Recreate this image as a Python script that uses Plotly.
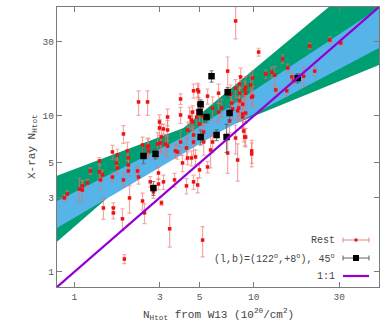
import plotly.graph_objects as go

# "Rest" sample: N_H from W13 (x) vs X-ray N_H (y), 1e20 cm^-2
rest_x = [0.88, 0.914, 1.066, 1.108, 1.108, 1.182, 1.228, 1.38, 1.38, 1.397,
          1.433, 1.452, 1.63, 1.65, 1.65, 1.738, 1.717, 1.878, 1.854, 1.90,
          2.0, 2.0, 2.03, 2.25, 2.28, 2.40, 2.46, 2.65, 2.76, 2.945,
          3.06, 3.40, 3.62, 4.01, 4.22, 4.62, 4.87, 4.99, 5.53, 5.19,
          4.28, 4.50, 4.74, 7.16, 8.14, 9.75,
          1.878, 1.63, 1.738, 1.977, 2.0, 2.40, 2.59, 2.59, 2.985, 3.14,
          3.06, 2.985, 2.28, 2.56, 2.56, 3.02, 3.31, 3.31, 3.31, 3.91,
          3.91, 3.66, 3.76, 3.91, 4.28, 4.39, 4.50, 4.56, 4.80, 4.87,
          4.93, 4.99, 2.91, 3.22, 4.62, 4.62, 5.26, 4.22, 5.26, 5.75,
          5.90, 8.91, 9.75, 7.93, 4.62, 5.53, 4.93, 4.56, 5.19, 5.90,
          6.62, 6.37, 7.54, 7.63, 8.25, 8.68, 8.14, 8.68, 7.34, 9.02,
          9.62, 9.87, 9.75, 7.16, 8.46, 7.93, 8.35, 8.35, 6.37, 7.44,
          8.35, 7.93, 10.66, 14.5, 15.5, 20.5, 26.6, 30.6, 11.67, 12.6,
          13.1, 9.02, 8.91, 9.87, 13.27, 15.3, 16.3, 16.7, 19.0, 21.9,
          8.68, 9.02, 8.79, 9.02, 2.945, 3.14]
rest_y = [2.98, 3.16, 3.40, 3.35, 3.56, 3.72, 4.44, 5.15, 4.38, 3.89,
          4.19, 2.57, 4.06, 2.57, 2.39, 4.64, 5.0, 3.89, 2.19, 1.21,
          4.85, 4.44, 2.98, 4.44, 4.06, 2.85, 2.39, 3.78, 3.26, 3.66,
          2.77, 1.89, 3.89, 5.0, 3.56, 3.78, 3.61, 4.51, 4.71, 1.60,
          5.38, 5.38, 5.46, 5.79, 5.22, 5.97,
          7.67, 5.88, 5.62, 5.97, 5.38, 6.52, 6.42, 5.97, 8.38, 8.26,
          7.33, 9.15, 12.3, 12.3, 6.33, 6.71, 8.13, 6.42, 9.85, 12.85,
          10.15, 5.97, 5.88, 6.81, 8.13, 9.85, 9.42, 9.15, 9.85, 14.7,
          14.3, 8.89, 6.61, 6.61, 7.55, 6.81, 7.89, 6.24, 6.81, 6.05,
          6.81, 7.33, 5.71, 7.22, 14.5, 13.4, 11.9, 10.6, 10.0, 11.25,
          11.25, 10.6, 12.1, 11.1, 11.25, 11.9, 10.8, 10.3, 9.29, 14.0,
          15.8, 17.5, 13.2, 19.4, 17.8, 15.1, 16.0, 14.0, 14.0, 13.8,
          12.5, 40.7, 25.7, 23.2, 20.3, 28.1, 30.7, 29.4, 18.6, 19.1,
          18.3, 15.3, 14.7, 13.4, 14.7, 14.5, 17.8, 16.8, 18.0, 19.4,
          9.85, 10.45, 8.01, 7.33, 4.31, 3.78]
rest_err = [0.15, 0.15, 0.6, 0.5, 0.3, 0.2, 0.2, 0.25, 0.4, 0.5,
            0.3, 0.4, 0.3, 0.2, 0.2, 0.4, 0.3, 0.4, 0.35, 0.08,
            0.4, 0.3, 0.6, 0.3, 0.4, 0.35, 0.35, 0.3, 0.3, 0.3,
            0.1, 0.45, 0.4, 0.6, 0.4, 0.4, 0.4, 0.5, 0.4, 0.35,
            0.5, 0.6, 0.6, 1.5, 1.4, 1.0,
            1.0, 0.6, 0.5, 0.8, 0.6, 0.8, 0.8, 0.6, 1.1, 0.6,
            1.5, 1.0, 2.2, 2.2, 0.8, 0.8, 1.2, 1.0, 1.2, 1.0,
            1.2, 0.6, 0.6, 1.2, 1.0, 1.5, 1.2, 1.2, 1.0, 1.5,
            1.5, 1.0, 1.2, 1.0, 1.0, 1.2, 1.0, 1.0, 1.2, 1.4,
            1.0, 0.9, 1.0, 1.5, 1.5, 1.5, 1.2, 1.0, 1.3, 2.0,
            1.5, 1.5, 1.5, 1.5, 2.0, 2.0, 1.5, 2.0, 1.5, 1.5,
            2.5, 2.0, 1.5, 4.5, 2.5, 2.0, 2.0, 2.0, 2.0, 2.0,
            2.5, 9.5, 1.5, 1.5, 1.2, 1.2, 1.5, 1.0, 1.2, 1.5,
            2.5, 2.5, 2.0, 2.0, 0.8, 1.0, 1.0, 1.0, 2.5, 1.3,
            1.5, 1.5, 1.2, 1.0, 0.4, 0.4]

# (l,b)=(122,+8), 45 deg subsample
gc_x = [2.76, 2.43, 2.835, 5.82, 7.16, 5.06, 4.99, 5.46, 7.34, 5.06, 6.21, 7.06, 17.6]
gc_y = [3.45, 5.54, 5.71, 18.0, 14.2, 11.9, 10.6, 9.85, 10.45, 7.33, 7.55, 7.33, 17.5]
gc_err = [0.35, 0.6, 0.4, 1.5, 1.0, 0.8, 0.6, 0.8, 1.0, 0.8, 0.6, 1.5, 1.2]

# fit bands (edges, log-log piecewise)
green_hi_x = [0.8, 4.06, 50]
green_hi_y = [4.14, 8.38, 92.7]
green_lo_x = [0.8, 2.82, 50]
green_lo_y = [1.56, 5.5, 21.2]
blue_hi_x = [0.8, 4.06, 50]
blue_hi_y = [2.85, 7.33, 49.2]
blue_lo_x = [0.8, 6.55, 50]
blue_lo_y = [1.91, 7.94, 27.3]

one_x = [0.8, 50]
one_y = [0.8, 50]

ticks = [1, 3, 5, 10, 30]

W, H = 390, 327
L, R, T, B = 57, 11, 7, 40
FONT = "Liberation Mono, DejaVu Sans Mono, monospace"

fig = go.Figure()

fig.add_trace(go.Scatter(x=green_hi_x + green_lo_x[::-1], y=green_hi_y + green_lo_y[::-1],
                         fill="toself", fillcolor="#009E73", line=dict(width=0),
                         mode="lines", hoverinfo="skip", showlegend=False))
fig.add_trace(go.Scatter(x=blue_hi_x + blue_lo_x[::-1], y=blue_hi_y + blue_lo_y[::-1],
                         fill="toself", fillcolor="#56B4E9", line=dict(width=0),
                         mode="lines", hoverinfo="skip", showlegend=False))

fig.add_trace(go.Scatter(x=rest_x, y=rest_y, mode="markers",
                         marker=dict(symbol="square", size=3.5, color="#ee1111"),
                         error_y=dict(type="data", array=rest_err, color="rgba(236,110,110,0.6)",
                                      thickness=1.2, width=2),
                         showlegend=False))
fig.add_trace(go.Scatter(x=gc_x, y=gc_y, mode="markers",
                         marker=dict(symbol="square", size=6.5, color="black"),
                         error_y=dict(type="data", array=gc_err, color="rgba(90,90,90,0.75)",
                                      thickness=1.2, width=2),
                         showlegend=False))
fig.add_trace(go.Scatter(x=one_x, y=one_y, mode="lines",
                         line=dict(color="#9400D3", width=2.2), showlegend=False))

axis = dict(type="log", tickvals=ticks, ticktext=[str(t) for t in ticks],
            showgrid=False, zeroline=False, showline=True, linecolor="#7a7a7a",
            linewidth=1.2, mirror="ticks", ticks="inside", ticklen=5,
            tickcolor="#7a7a7a", tickfont=dict(family=FONT, size=9.5, color="#555"))
fig.update_xaxes(range=[-0.0969, 1.699], **axis)
fig.update_yaxes(range=[-0.0969, 1.699], **axis)

# legend drawn gnuplot-style (text left, sample right)
def px(x):
    return (x - L) / (W - L - R)

def py(y):
    return (H - B - y) / (H - T - B)

leg = [("Rest", 240), ("(l,b)=(122<sup>o</sup>,+8<sup>o</sup>), 45<sup>o</sup>", 258), ("1:1", 276)]
ann = []
shapes = []
for txt, yy in leg:
    ann.append(dict(x=px(337), y=py(yy), xref="paper", yref="paper", text=txt,
                    showarrow=False, xanchor="right", yanchor="middle",
                    font=dict(family=FONT, size=10, color="#444")))
for yy, col, mcol, ms in [(240, "rgba(236,110,110,0.7)", "#ee1111", 1.5), (258, "rgba(90,90,90,0.8)", "black", 3)]:
    shapes.append(dict(type="line", xref="paper", yref="paper", x0=px(343), x1=px(369),
                       y0=py(yy), y1=py(yy), line=dict(color=col, width=1.2)))
    for xe in (343, 369):
        shapes.append(dict(type="line", xref="paper", yref="paper", x0=px(xe), x1=px(xe),
                           y0=py(yy - 2.5), y1=py(yy + 2.5), line=dict(color=col, width=1.2)))
    shapes.append(dict(type="rect", xref="paper", yref="paper", x0=px(356 - ms), x1=px(356 + ms),
                       y0=py(yy + ms), y1=py(yy - ms), fillcolor=mcol, line=dict(width=0)))
shapes.append(dict(type="line", xref="paper", yref="paper", x0=px(343), x1=px(369),
                   y0=py(276), y1=py(276), line=dict(color="#9400D3", width=2.2)))

ann.append(dict(x=0.5, y=py(314), xref="paper", yref="paper",
                text="N<sub>Htot</sub> from W13 (10<sup>20</sup>/cm<sup>2</sup>)",
                showarrow=False, xanchor="center", yanchor="middle",
                font=dict(family=FONT, size=11, color="#444")))
ann.append(dict(x=px(32), y=py(147), xref="paper", yref="paper",
                text="X-ray N<sub>Htot</sub>", textangle=-90,
                showarrow=False, xanchor="center", yanchor="middle",
                font=dict(family=FONT, size=11, color="#444")))

fig.update_layout(width=W, height=H, margin=dict(l=L, r=R, t=T, b=B),
                  plot_bgcolor="white", paper_bgcolor="white",
                  annotations=ann, shapes=shapes, showlegend=False)

fig.write_html("out.html", config={"displayModeBar": False},
               post_script="document.body.style.margin='0';")
